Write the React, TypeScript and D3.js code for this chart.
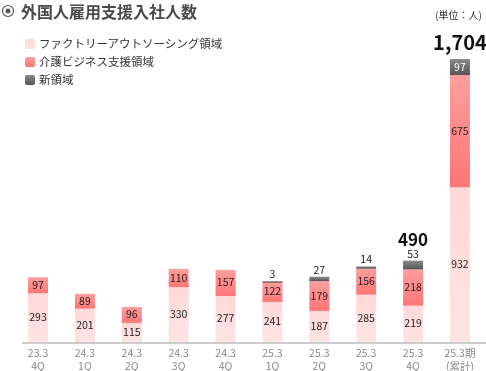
import React, { useEffect, useRef } from "react";
import * as d3 from "d3";

const periodTop = ["23.3", "24.3", "24.3", "24.3", "24.3", "25.3", "25.3", "25.3", "25.3", "25.3期"];
const periodBottom = ["4Q", "1Q", "2Q", "3Q", "4Q", "1Q", "2Q", "3Q", "4Q", "(累計)"];
const factory = [293, 201, 115, 330, 277, 241, 187, 285, 219, 932];
const care = [97, 89, 96, 110, 157, 122, 179, 156, 218, 675];
const newDomain = [0, 0, 0, 0, 0, 3, 27, 14, 53, 97];
const seriesNames = ["ファクトリーアウトソーシング領域", "介護ビジネス支援領域", "新領域"];
const highlightTotals = [
  { index: 8, label: "490", size: 17 },
  { index: 9, label: "1,704", size: 20 },
];

const FONT = "'Noto Sans CJK JP', 'Noto Sans', sans-serif";

export default function App() {
  const svgRef = useRef<SVGSVGElement>(null);

  useEffect(() => {
    const width = 486;
    const height = 371;
    const svg = d3.select(svgRef.current).attr("width", width).attr("height", height);
    svg.selectAll("*").remove();
    svg.style("font-family", FONT);

    // gradients
    const defs = svg.append("defs");
    const grad = (id: string, top: string, bottom: string) => {
      const g = defs.append("linearGradient").attr("id", id).attr("x1", 0).attr("y1", 0).attr("x2", 0).attr("y2", 1);
      g.append("stop").attr("offset", "0%").attr("stop-color", top);
      g.append("stop").attr("offset", "100%").attr("stop-color", bottom);
    };
    grad("gFactory", "#ffd9d9", "#ffe3e3");
    grad("gCare", "#ff9e9e", "#ff7676");
    grad("gNew", "#8a8a8a", "#555555");
    const fills = ["url(#gFactory)", "url(#gCare)", "url(#gNew)"];

    const baseline = 342;
    const x = d3
      .scaleBand()
      .domain(periodTop.map((_, i) => String(i)))
      .range([14, 484])
      .paddingInner(0.574)
      .paddingOuter(0.3);
    const y = d3.scaleLinear().domain([0, 1704]).range([baseline, 59]);

    // title
    const title = svg.append("g");
    title.append("circle").attr("cx", 8).attr("cy", 11).attr("r", 5.5).attr("fill", "none").attr("stroke", "#555").attr("stroke-width", 1.2);
    title.append("circle").attr("cx", 8).attr("cy", 11).attr("r", 2.5).attr("fill", "#555");
    title
      .append("text")
      .attr("x", 21)
      .attr("y", 18)
      .attr("fill", "#4a4a4a")
      .style("font-size", "16px")
      .style("font-weight", "bold")
      .text("外国人雇用支援入社人数");

    svg
      .append("text")
      .attr("x", 482)
      .attr("y", 19)
      .attr("text-anchor", "end")
      .attr("fill", "#333")
      .style("font-size", "10px")
      .text("(単位：人)");

    // legend
    const legend = svg.append("g");
    seriesNames.forEach((name, i) => {
      legend
        .append("rect")
        .attr("x", 25)
        .attr("y", 39 + i * 18)
        .attr("width", 10)
        .attr("height", 10)
        .attr("rx", 2)
        .attr("fill", fills[i]);
      legend
        .append("text")
        .attr("x", 39)
        .attr("y", 48 + i * 18)
        .attr("fill", "#333")
        .style("font-size", "11.5px")
        .text(name);
    });

    // bars
    const bw = x.bandwidth();
    periodTop.forEach((_, i) => {
      const x0 = x(String(i))!;
      const cx = x0 + bw / 2;
      const segs = [factory[i], care[i], newDomain[i]];
      let acc = 0;
      segs.forEach((v, s) => {
        if (!v) return;
        const y0 = y(acc);
        const y1 = y(acc + v);
        acc += v;
        svg
          .append("rect")
          .attr("x", x0)
          .attr("y", y1)
          .attr("width", bw)
          .attr("height", Math.max(1.5, y0 - y1))
          .attr("fill", fills[s]);
        if (s === 2 && i !== 9) return;
        svg
          .append("text")
          .attr("x", cx)
          .attr("y", (y0 + y1) / 2 + 3.5)
          .attr("text-anchor", "middle")
          .attr("fill", s === 2 ? "#fff" : "#222")
          .style("font-size", "10.5px")
          .text(v);
      });
      // small new-domain labels above
      let topY = y(acc);
      if (newDomain[i] && i !== 9) {
        svg
          .append("text")
          .attr("x", cx)
          .attr("y", topY - 3)
          .attr("text-anchor", "middle")
          .attr("fill", "#222")
          .style("font-size", "10.5px")
          .text(newDomain[i]);
        topY -= 6;
      }
      const hl = highlightTotals.find((h) => h.index === i);
      if (hl) {
        svg
          .append("text")
          .attr("x", cx)
          .attr("y", topY - 9)
          .attr("text-anchor", "middle")
          .attr("fill", "#111")
          .style("font-size", `${hl.size}px`)
          .style("font-weight", "bold")
          .text(hl.label);
      }
      // tick labels
      svg
        .append("text")
        .attr("x", cx)
        .attr("y", 357)
        .attr("text-anchor", "middle")
        .attr("fill", "#888")
        .style("font-size", "10.5px")
        .text(periodTop[i]);
      svg
        .append("text")
        .attr("x", cx)
        .attr("y", 369.5)
        .attr("text-anchor", "middle")
        .attr("fill", "#888")
        .style("font-size", "10.5px")
        .text(periodBottom[i]);
    });

    // axis line
    svg
      .append("line")
      .attr("x1", 22)
      .attr("x2", 486)
      .attr("y1", baseline + 1)
      .attr("y2", baseline + 1)
      .attr("stroke", "#ccc")
      .attr("stroke-width", 2);
  }, []);

  return (
    <div style={{ position: "fixed", left: 0, top: 0 }}>
      <svg ref={svgRef} />
    </div>
  );
}
